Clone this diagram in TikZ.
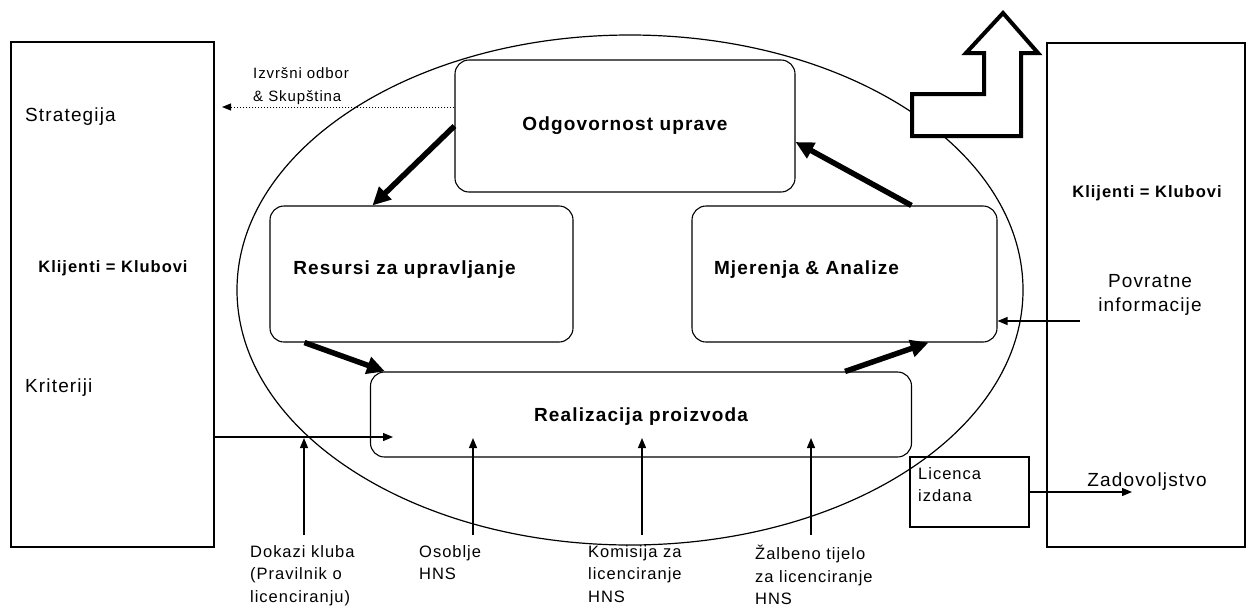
\documentclass[tikz,border=0pt]{standalone}
\usepackage{fontspec}
\setmainfont{Liberation Sans}[LetterSpace=6]
\usetikzlibrary{arrows.meta}

\begin{document}
\begin{tikzpicture}[x=1pt, y=-1pt,
    okvir/.style={draw, line width=1.3pt, inner sep=0pt},
    proces/.style={draw, line width=1.1pt, rounded corners=14pt, inner sep=0pt, font=\fontsize{19}{23}\selectfont\bfseries},
    tok/.style={line width=5.5pt, -{Triangle[length=18pt, width=17pt]}},
    strelica/.style={line width=1.2pt, -{Triangle[length=10pt, width=8pt]}},
    tekst/.style={inner sep=0pt, font=\fontsize{19}{24}\selectfont},
    opis/.style={inner sep=0pt, align=left, font=\fontsize{16.5}{22.5}\selectfont},
    klijent/.style={inner sep=0pt, font=\fontsize{16.5}{20}\selectfont\bfseries}]

    \useasboundingbox (0,0) rectangle (1250,606);

    \draw[line width=1.2pt] (630,290) ellipse [x radius=393pt, y radius=255pt];

    \node[okvir, minimum width=203pt, minimum height=505pt] (lijevi) at (112.5,294.5) {};
    \node[okvir, minimum width=198pt, minimum height=504pt] (desni) at (1146,295) {};

    \node[tekst, anchor=west] (strategija) at (25,117) {Strategija};
    \node[klijent] (klijentiL) at (113,268) {Klijenti = Klubovi};
    \node[tekst, anchor=west] (kriteriji) at (25,388) {Kriteriji};

    \node[klijent] (klijentiD) at (1147,193) {Klijenti = Klubovi};
    \node[tekst, align=center, font=\fontsize{19}{24}\selectfont] (povratne) at (1150,295) {Povratne\\informacije};
    \node[tekst] (zadovoljstvo) at (1147,482) {Zadovoljstvo};

    \node[proces, minimum width=340pt, minimum height=132pt] (uprava) at (625,126) {Odgovornost uprave};
    \node[proces, minimum width=303pt, minimum height=136pt,
        label={[font=\fontsize{19}{23}\selectfont\bfseries, xshift=-17pt, yshift=4pt]center:Resursi za upravljanje}] (resursi) at (421.5,274) {};
    \node[proces, minimum width=305pt, minimum height=136pt,
        label={[font=\fontsize{19}{23}\selectfont\bfseries, xshift=-38pt, yshift=4pt]center:Mjerenja \& Analize}] (mjerenja) at (844.5,274) {};
    \node[proces, minimum width=541pt, minimum height=85pt, text depth=0pt] (realizacija) at (641,414.5) {Realizacija proizvoda};

    \draw[line width=4pt, fill=white, line join=miter] (912,94) -- (984,94) -- (984,53) -- (966,53) -- (1003,13)
        -- (1038,53) -- (1021,53) -- (1021,136) -- (912,136) -- cycle;

    \node[opis, anchor=west] (odbor) at (253,86) {\fontsize{15}{20}\selectfont Izvršni odbor\\\fontsize{15}{20}\selectfont\& Skupština};

    \node[okvir, minimum width=119pt, minimum height=70pt] (licenca) at (969.5,492) {};
    \node[opis, anchor=north west] (izdana) at (918,467) {Licenca\\izdana};

    \node[opis, anchor=north west] (dokazi) at (250,545) {Dokazi kluba\\(Pravilnik o\\licenciranju)};
    \node[opis, anchor=north west] (osoblje) at (419,545) {Osoblje\\HNS};
    \node[opis, anchor=north west] (komisija) at (588,545) {Komisija za\\licenciranje\\HNS};
    \node[opis, anchor=north west] (zalbeno) at (755,545) {Žalbeno tijelo\\za licenciranje\\HNS};

    \coordinate (ulaz) at (393,437);
    \coordinate (d1) at (304,438);
    \coordinate (d2) at (473,438);
    \coordinate (d3) at (642,438);
    \coordinate (d4) at (811,438);
    \coordinate (povratak) at (1080,321);
    \coordinate (zad) at (1132,492);
    \coordinate (prema) at (222,107);

    \draw[tok] (uprava.west) -- ([xshift=103pt]resursi.north west);
    \draw[tok] ([xshift=220pt]mjerenja.north west) -- ([yshift=-16pt]uprava.east);
    \draw[tok] ([xshift=35pt]resursi.south west) -- ([xshift=15pt]realizacija.north west);
    \draw[tok] ([xshift=-67pt]realizacija.north east) -- ([xshift=-69pt]mjerenja.south east);

    \draw[line width=1pt, dotted, -{Triangle[length=9pt, width=7pt]}] ([yshift=19pt]uprava.west) -- (prema);

    \draw[strelica] (lijevi.east |- ulaz) -- (ulaz);
    \draw[strelica] ([yshift=10pt]d1 |- dokazi.north) -- (d1);
    \draw[strelica] ([yshift=10pt]d2 |- osoblje.north) -- (d2);
    \draw[strelica] ([yshift=10pt]d3 |- komisija.north) -- (d3);
    \draw[strelica] ([yshift=10pt]d4 |- zalbeno.north) -- (d4);
    \draw[strelica] (povratak) -- (mjerenja.east |- povratak);
    \draw[strelica] (licenca.east) -- (zad);

\end{tikzpicture}
\end{document}
